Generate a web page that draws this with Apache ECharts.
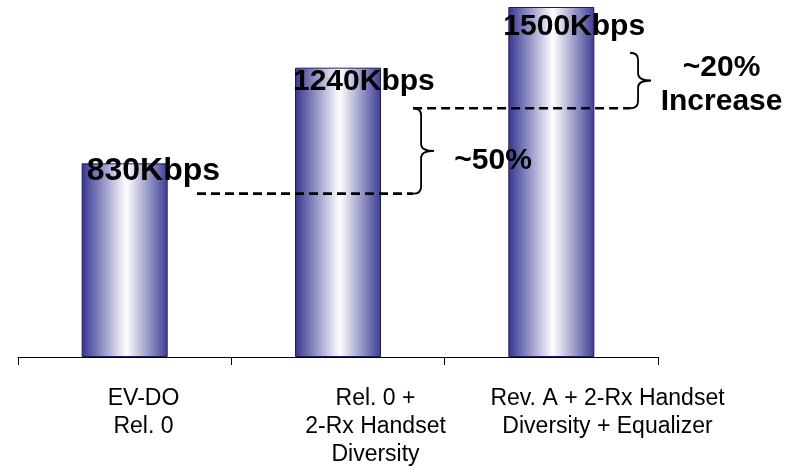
<!DOCTYPE html>
<html>
<head>
<meta charset="utf-8">
<script src="https://cdn.jsdelivr.net/npm/echarts@6/dist/echarts.min.js"></script>
<style>
  html, body { margin: 0; padding: 0; background: #ffffff; }
  #chart { width: 800px; height: 467px; }
</style>
</head>
<body>
<div id="chart"></div>
<script>
// ---- data ----
const categories = ['EV-DO\nRel. 0', 'Rel. 0 +\n2-Rx Handset\nDiversity', 'Rev. A + 2-Rx Handset\nDiversity + Equalizer'];
const throughputKbps = [830, 1240, 1500];
// annotation guides (in data units: x = category position 0..3, y = Kbps)
const guideLow = [[0.839, 700], [1.852, 700]];
const guideHigh = [[1.852, 1066], [2.869, 1066]];
const braceX = [1.852, 2.869];
const braceFrom = [700, 1066];
const braceTo = [1066, 1304];
const noteText = ['~50%', '~20%\nIncrease'];
const noteX = [2.227, 3.298];
const noteY = [840, 1166];

// ---- style ----
const FONT = '"Liberation Sans", Arial, Helvetica, sans-serif';
const labelOffsets = [[5, -8], [-2, -1], [-5, 5]];
const labelSizes = [32, 30, 30];

const chart = echarts.init(document.getElementById('chart'), null, { renderer: 'canvas' });

const barGradient = {
  type: 'linear', x: 0, y: 0, x2: 1, y2: 0,
  colorStops: [
    { offset: 0, color: '#353590' },
    { offset: 0.52, color: '#ffffff' },
    { offset: 1, color: '#3d3d95' }
  ]
};

const option = {
  animation: false,
  backgroundColor: '#ffffff',
  grid: [
    { left: 18, width: 640, top: 7, height: 350, outerBoundsMode: 'none', containLabel: false },
    { left: 27.5, width: 696, top: 7, height: 350, outerBoundsMode: 'none', containLabel: false }
  ],
  xAxis: [
    {
      type: 'category', gridIndex: 0, data: categories,
      axisLine: { show: true, lineStyle: { color: '#000', width: 1 } },
      axisTick: { show: true, length: 8, lineStyle: { color: '#000', width: 1 } },
      axisLabel: { show: false }
    },
    { type: 'value', gridIndex: 0, min: 0, max: 3, show: false },
    {
      type: 'category', gridIndex: 1, data: categories,
      axisLine: { show: false }, axisTick: { show: false },
      axisLabel: {
        interval: 0, margin: 28, verticalAlign: 'top', align: 'center',
        fontSize: 23, lineHeight: 28, color: '#000', fontFamily: FONT
      }
    }
  ],
  yAxis: [
    { type: 'value', gridIndex: 0, min: 0, max: 1500, show: false },
    { type: 'value', gridIndex: 1, min: 0, max: 1500, show: false }
  ],
  series: [
    {
      type: 'bar', xAxisIndex: 0, yAxisIndex: 0, barWidth: 86, z: 2,
      itemStyle: { color: barGradient, borderColor: '#1e1e5e', borderWidth: 1 },
      data: throughputKbps.map((v, i) => ({
        value: v,
        label: {
          show: true, position: 'insideTopLeft', distance: 0,
          offset: labelOffsets[i], fontSize: labelSizes[i]
        }
      })),
      label: {
        show: true, formatter: '{c}Kbps', color: '#000', fontWeight: 'bold',
        fontFamily: FONT, fontSize: 30
      }
    },
    {
      type: 'line', xAxisIndex: 1, yAxisIndex: 0, data: guideLow, z: 6,
      symbol: 'none', silent: true,
      lineStyle: { color: '#000', width: 2.7, type: [9, 5] }
    },
    {
      type: 'line', xAxisIndex: 1, yAxisIndex: 0, data: guideHigh, z: 6,
      symbol: 'none', silent: true,
      lineStyle: { color: '#000', width: 2.7, type: [9, 5] }
    },
    {
      type: 'custom', xAxisIndex: 1, yAxisIndex: 0, clip: false, silent: true, z: 6,
      data: braceX.map((x, i) => [x, braceFrom[i], braceTo[i]]),
      renderItem: function (params, api) {
        const p0 = api.coord([api.value(0), api.value(1)]);
        const p1 = api.coord([api.value(0), api.value(2)]);
        const hx = p0[0], bot = p0[1], top = p1[1];
        const sx = hx + 8, tx = hx + 21, mid = (top + bot) / 2, r = 7;
        const d = 'M' + hx + ',' + top +
          ' Q' + sx + ',' + top + ' ' + sx + ',' + (top + r) +
          ' L' + sx + ',' + (mid - r) +
          ' Q' + sx + ',' + mid + ' ' + tx + ',' + mid +
          ' Q' + sx + ',' + mid + ' ' + sx + ',' + (mid + r) +
          ' L' + sx + ',' + (bot - r) +
          ' Q' + sx + ',' + bot + ' ' + hx + ',' + bot;
        return {
          type: 'path',
          shape: { pathData: d },
          style: { fill: 'none', stroke: '#000', lineWidth: 1.8 }
        };
      }
    },
    {
      type: 'custom', xAxisIndex: 1, yAxisIndex: 0, clip: false, silent: true, z: 10,
      data: noteX.map((x, i) => [x, noteY[i], i]),
      renderItem: function (params, api) {
        const p = api.coord([api.value(0), api.value(1)]);
        const i = api.value(2);
        return {
          type: 'text',
          x: p[0], y: p[1],
          z2: 10,
          style: {
            text: noteText[i], fill: '#000', fontSize: 30, fontWeight: 'bold',
            fontFamily: FONT, align: 'center', verticalAlign: 'middle', lineHeight: 34
          }
        };
      }
    }
  ]
};

chart.setOption(option);
</script>
</body>
</html>
